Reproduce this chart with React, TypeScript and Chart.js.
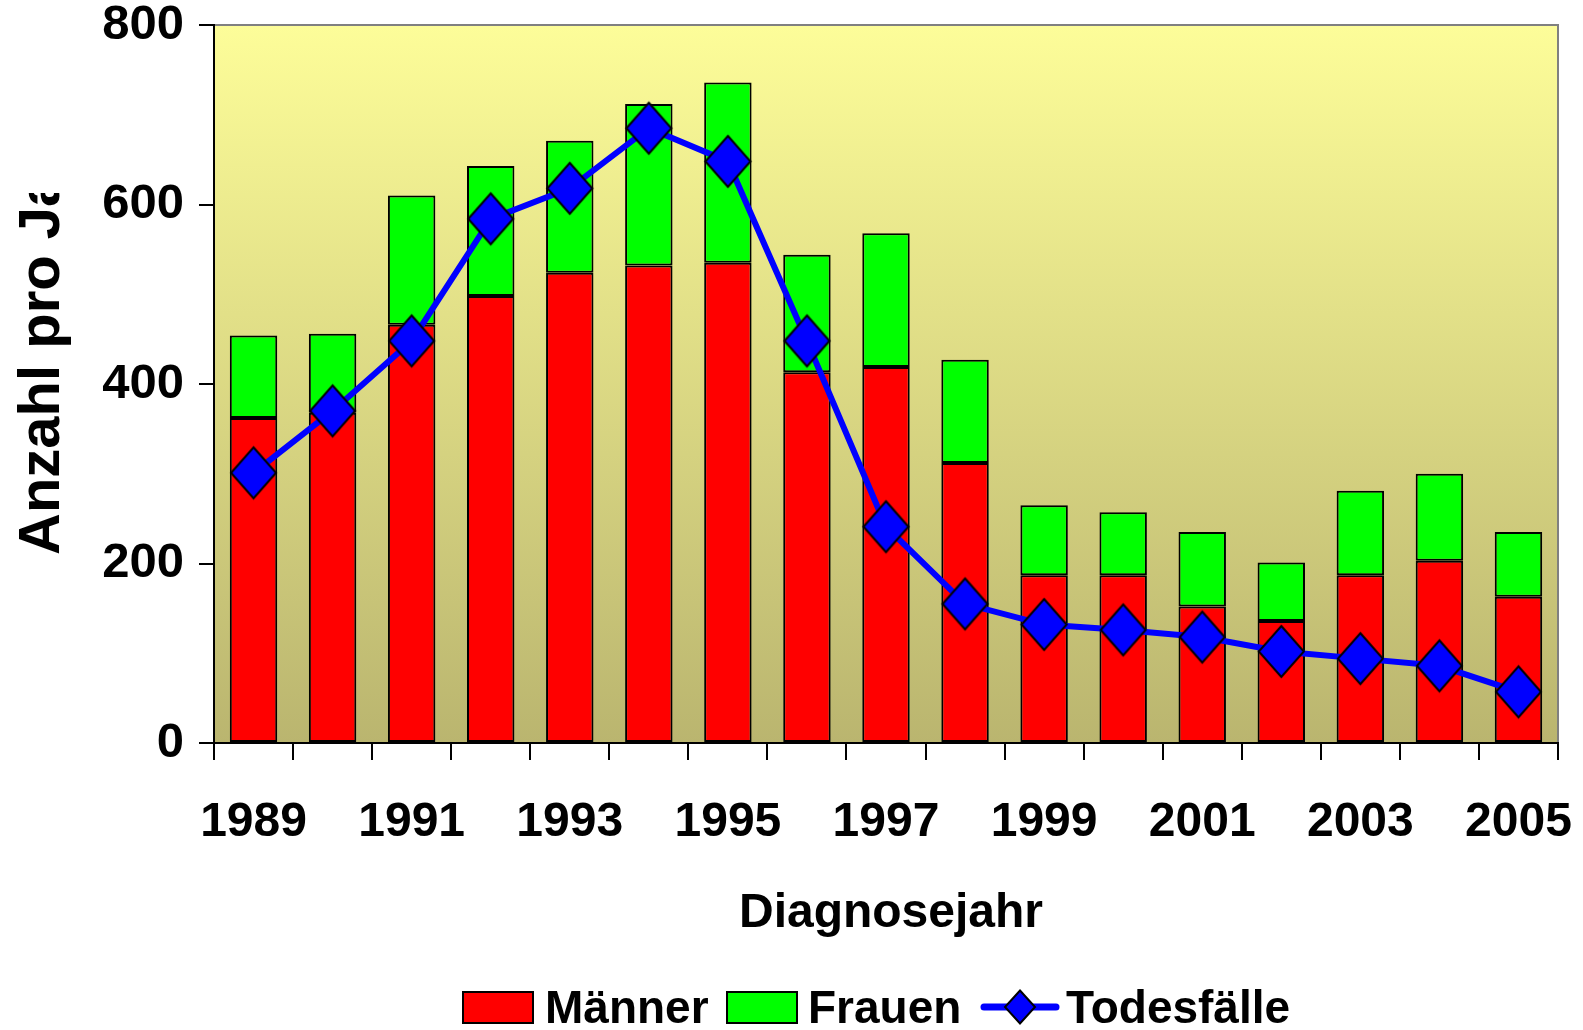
import React, { useEffect, useRef } from 'react';
import { Chart, registerables } from 'chart.js';

Chart.register(...registerables);

const years = ['1989', '1990', '1991', '1992', '1993', '1994', '1995', '1996', '1997', '1998', '1999', '2000', '2001', '2002', '2003', '2004', '2005'];
const maenner = [362, 368, 466, 498, 524, 532, 535, 413, 419, 312, 187, 187, 152, 136, 187, 203, 163];
const frauen = [92, 88, 144, 145, 147, 180, 201, 131, 149, 115, 78, 70, 83, 65, 94, 97, 72];
const todesfaelle = [301, 370, 448, 584, 618, 685, 648, 448, 241, 155, 132, 126, 118, 102, 94, 86, 57];
const yMin = 0;
const yMax = 800;
const yStep = 200;

const xTitle = 'Diagnosejahr';
const yTitle = 'Anzahl pro Jahr';
const legendLabels = ['Männer', 'Frauen', 'Todesfälle'];

const FONT = '"Liberation Sans", Arial, Helvetica, sans-serif';

function makeDiamond(w: number, h: number, lw: number): HTMLCanvasElement {
  const c = document.createElement('canvas');
  c.width = Math.ceil(w + lw * 3);
  c.height = Math.ceil(h + lw * 3);
  const ctx = c.getContext('2d')!;
  const cx = c.width / 2;
  const cy = c.height / 2;
  ctx.beginPath();
  ctx.moveTo(cx, cy - h / 2);
  ctx.lineTo(cx + w / 2, cy);
  ctx.lineTo(cx, cy + h / 2);
  ctx.lineTo(cx - w / 2, cy);
  ctx.closePath();
  ctx.fillStyle = '#0000FF';
  ctx.fill();
  ctx.lineWidth = lw;
  ctx.strokeStyle = '#000000';
  ctx.stroke();
  return c;
}

function drawDiamond(ctx: CanvasRenderingContext2D, cx: number, cy: number, hw: number, hh: number) {
  ctx.beginPath();
  ctx.moveTo(cx, cy - hh);
  ctx.lineTo(cx + hw, cy);
  ctx.lineTo(cx, cy + hh);
  ctx.lineTo(cx - hw, cy);
  ctx.closePath();
  ctx.fillStyle = '#0000FF';
  ctx.fill();
  ctx.lineWidth = 2;
  ctx.strokeStyle = '#000000';
  ctx.stroke();
}

const decorPlugin = {
  id: 'decor',
  beforeDraw(chart: any) {
    const { ctx, chartArea: a } = chart;
    ctx.save();
    const g = ctx.createLinearGradient(0, a.top, 0, a.bottom);
    g.addColorStop(0, '#FDFD99');
    g.addColorStop(1, '#BAB56F');
    ctx.fillStyle = g;
    ctx.fillRect(a.left, a.top, a.right - a.left, a.bottom - a.top);
    ctx.strokeStyle = '#808080';
    ctx.lineWidth = 2;
    ctx.strokeRect(a.left, a.top, a.right - a.left, a.bottom - a.top);
    ctx.restore();
  },
  afterDraw(chart: any) {
    const { ctx, chartArea: a } = chart;
    ctx.save();
    ctx.fillStyle = '#000000';

    // x axis title
    ctx.font = `bold 48px ${FONT}`;
    ctx.textAlign = 'center';
    ctx.textBaseline = 'alphabetic';
    ctx.fillText(xTitle, (a.left + a.right) / 2 + 5, 927);

    // y axis title (clipped like in the original)
    ctx.save();
    ctx.beginPath();
    ctx.rect(0, 193, 200, 1030 - 193);
    ctx.clip();
    ctx.translate(58.5, 555);
    ctx.rotate(-Math.PI / 2);
    ctx.font = `bold 58px ${FONT}`;
    ctx.textAlign = 'left';
    ctx.textBaseline = 'alphabetic';
    ctx.fillText(yTitle, 0, 0);
    ctx.restore();

    // legend
    const baseY = 1023;
    ctx.font = `bold 46px ${FONT}`;
    ctx.textAlign = 'left';
    ctx.textBaseline = 'alphabetic';
    // Männer
    ctx.fillStyle = '#FF0000';
    ctx.fillRect(463, 992, 70, 31);
    ctx.strokeStyle = '#000';
    ctx.lineWidth = 2;
    ctx.strokeRect(463, 992, 70, 31);
    ctx.fillStyle = '#000';
    ctx.fillText(legendLabels[0], 545, baseY);
    // Frauen
    ctx.fillStyle = '#00FF00';
    ctx.fillRect(727, 992, 70, 31);
    ctx.strokeRect(727, 992, 70, 31);
    ctx.fillStyle = '#000';
    ctx.fillText(legendLabels[1], 808, baseY);
    // Todesfälle
    ctx.strokeStyle = '#0000FF';
    ctx.lineWidth = 7;
    ctx.lineCap = 'round';
    ctx.beginPath();
    ctx.moveTo(984, 1007);
    ctx.lineTo(1056, 1007);
    ctx.stroke();
    drawDiamond(ctx, 1020, 1007, 15, 16.5);
    ctx.fillStyle = '#000';
    ctx.fillText(legendLabels[2], 1066, baseY);

    ctx.restore();
  },
};

export default function App() {
  const canvasRef = useRef<HTMLCanvasElement | null>(null);

  useEffect(() => {
    const canvas = canvasRef.current;
    if (!canvas) return;
    const diamond = makeDiamond(45, 51, 2);
    const tickFontX = { family: FONT, size: 48, weight: 'bold' as const };
    const tickFontY = { family: FONT, size: 49, weight: 'bold' as const };

    const chart = new Chart(canvas, {
      type: 'bar',
      data: {
        labels: years,
        datasets: [
          {
            type: 'line' as const,
            label: legendLabels[2],
            data: todesfaelle,
            borderColor: '#0000FF',
            backgroundColor: '#0000FF',
            borderWidth: 6,
            tension: 0,
            pointStyle: diamond as any,
            pointRadius: 25,
            order: 0,
            stack: 'deaths',
          },
          {
            label: legendLabels[0],
            data: maenner,
            backgroundColor: '#FF0000',
            borderColor: '#000000',
            borderWidth: 2,
            borderSkipped: false,
            categoryPercentage: 1,
            barPercentage: 0.6,
            order: 1,
            stack: 'cases',
          },
          {
            label: legendLabels[1],
            data: frauen,
            backgroundColor: '#00FF00',
            borderColor: '#000000',
            borderWidth: 2,
            borderSkipped: false,
            categoryPercentage: 1,
            barPercentage: 0.6,
            order: 2,
            stack: 'cases',
          },
        ] as any,
      },
      options: {
        responsive: false,
        animation: false,
        devicePixelRatio: 1,
        layout: { autoPadding: false, padding: { left: 0, top: 25, right: 25, bottom: 0 } },
        plugins: {
          legend: { display: false },
          tooltip: { enabled: false },
          title: { display: false },
        },
        scales: {
          x: {
            stacked: true,
            offset: true,
            grid: {
              display: true,
              offset: true,
              drawOnChartArea: false,
              drawTicks: true,
              tickLength: 17,
              color: '#000000',
              lineWidth: 2,
            },
            border: { display: true, color: '#000000', width: 2 },
            ticks: {
              autoSkip: false,
              maxRotation: 0,
              minRotation: 0,
              padding: 34,
              color: '#000000',
              font: tickFontX,
              callback: (_v: any, i: number) => (i % 2 === 0 ? years[i] : ''),
            },
            afterFit: (s: any) => {
              s.height = 287;
              s.paddingLeft = 0;
              s.paddingRight = 0;
            },
          },
          y: {
            stacked: true,
            min: yMin,
            max: yMax,
            grid: {
              display: true,
              drawOnChartArea: false,
              drawTicks: true,
              tickLength: 15,
              color: '#000000',
              lineWidth: 2,
            },
            border: { display: true, color: '#000000', width: 2 },
            ticks: {
              stepSize: yStep,
              padding: 15,
              color: '#000000',
              font: tickFontY,
            },
            afterFit: (s: any) => {
              s.width = 214;
              s.paddingTop = 0;
              s.paddingBottom = 0;
            },
          },
        },
      } as any,
      plugins: [decorPlugin],
    });

    return () => {
      chart.destroy();
    };
  }, []);

  return (
    <div style={{ position: 'absolute', left: 0, top: 0, width: 1583, height: 1030, background: '#ffffff' }}>
      <canvas ref={canvasRef} width={1583} height={1030} style={{ display: 'block', width: 1583, height: 1030 }} />
    </div>
  );
}
